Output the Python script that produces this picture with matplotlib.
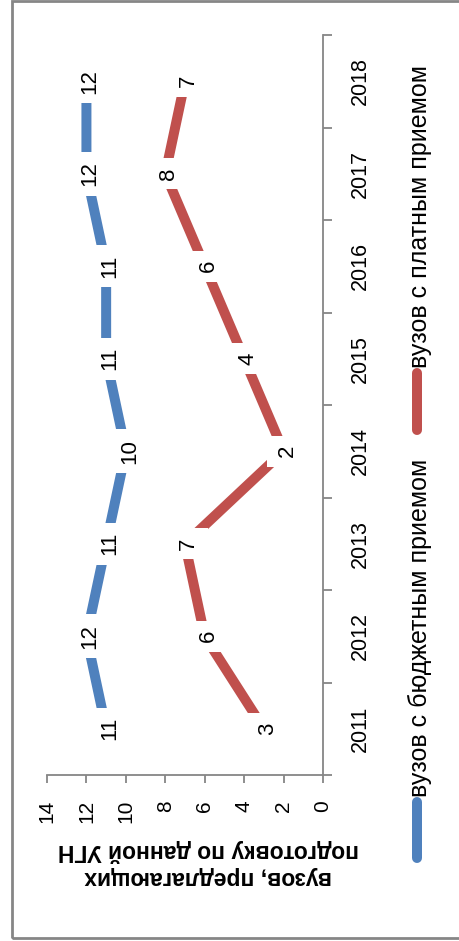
import matplotlib
matplotlib.use("Agg")
import matplotlib.pyplot as plt
from matplotlib.lines import Line2D
from matplotlib.patches import Rectangle

years = ["2011", "2012", "2013", "2014", "2015", "2016", "2017", "2018"]
budget = [11, 12, 11, 10, 11, 11, 12, 12]
paid = [3, 6, 7, 2, 4, 6, 8, 7]
value_ticks = [0, 2, 4, 6, 8, 10, 12, 14]
series_names = ["вузов с бюджетным приемом", "вузов с платным приемом"]
axis_title = "вузов, предлагающих\nподготовку по данной УГН"

BLUE = "#4F81BD"
RED = "#C0504D"
GRAY = "#868686"
FONT = "Liberation Sans"

W, H = 459, 941
fig = plt.figure(figsize=(W / 100, H / 100), dpi=100)

# внешняя рамка диаграммы
fig.patches.append(Rectangle((12 / W, 1 - 938 / H), 460 / W, 937 / H,
                             transform=fig.transFigure, fill=False,
                             edgecolor=GRAY, linewidth=2.0))

# область построения (график повернут: категории идут снизу вверх)
ax = fig.add_axes([47 / W, 1 - 775 / H, (323 - 47) / W, (775 - 35) / H])
ax.set_xlim(14, 0)
ax.set_ylim(-0.5, len(years) - 0.5)

pos = list(range(len(years)))
for vals, col in [(budget, BLUE), (paid, RED)]:
    ax.plot(vals, pos, color=col, linewidth=7.2, solid_joinstyle="round",
            solid_capstyle="butt", zorder=2)
    for v, p in zip(vals, pos):
        ax.annotate(str(v), (v, p), xytext=(2.5, 0), textcoords="offset points",
                    rotation=90, ha="center", va="center", fontsize=16,
                    family=FONT, zorder=3,
                    bbox=dict(boxstyle="square,pad=0.42", fc="white", ec="none"))

for s in ["top", "left"]:
    ax.spines[s].set_visible(False)
for s in ["bottom", "right"]:
    ax.spines[s].set_color(GRAY)
    ax.spines[s].set_linewidth(1.3)

ax.set_xticks(value_ticks)
ax.set_xticklabels([str(v) for v in value_ticks], rotation=90, family=FONT,
                   fontsize=15)
ax.tick_params(axis="x", direction="out", length=6, width=1.3, color=GRAY,
               pad=12)

ax.yaxis.tick_right()
ax.set_yticks(pos)
ax.set_yticklabels(years, rotation=90, va="center", family=FONT, fontsize=15.5)
ax.set_yticks([p - 0.5 for p in pos] + [len(years) - 0.5], minor=True)
ax.tick_params(axis="y", which="major", length=0, pad=19)
ax.tick_params(axis="y", which="minor", direction="out", length=6.5,
               width=1.3, color=GRAY)

# подпись оси значений (повернута на 180)
fig.text(208 / W, 1 - 864 / H, axis_title, rotation=180, ha="center",
         va="center", fontsize=16.5, fontweight="bold", family=FONT,
         linespacing=1.2)

# легенда вручную, вертикально
legend_items = [(BLUE, 802, 858, 797), (RED, 373, 430, 368)]
for (col, y0, y1, ty), name in zip(legend_items, series_names):
    fig.lines.append(Line2D([417 / W, 417 / W], [1 - y0 / H, 1 - y1 / H],
                            transform=fig.transFigure, color=col,
                            linewidth=7.2, solid_capstyle="round"))
    fig.text(420 / W, 1 - ty / H, name, rotation=90, ha="center",
             va="bottom", fontsize=18, family=FONT)

fig.savefig("out.png", dpi=100)
